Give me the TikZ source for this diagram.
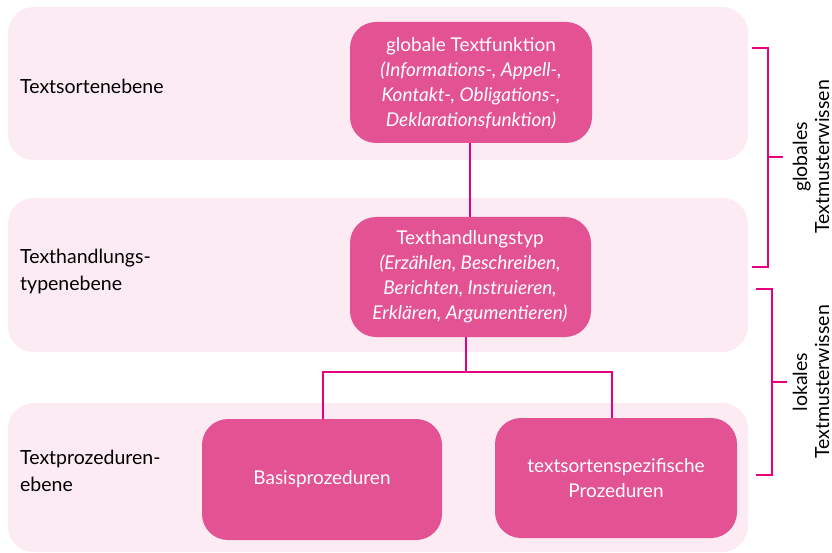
\documentclass[tikz,border=0pt]{standalone}
\usepackage{fontspec}
\setmainfont{Lato}
\definecolor{bandpink}{HTML}{FCEBF3}
\definecolor{boxpink}{HTML}{E35293}
\definecolor{linepink}{HTML}{E6007E}
\begin{document}
\begin{tikzpicture}[x=1pt,y=-1pt,
  band/.style={fill=bandpink, draw=none, rounded corners=26pt},
  pbox/.style={fill=boxpink, draw=none, rounded corners=26pt},
  boxtext/.style={text=white, align=center, font=\fontsize{19}{25}\selectfont},
  leveltext/.style={text=black, align=left, anchor=west, inner sep=0pt, font=\fontsize{19.5}{27}\selectfont},
  conn/.style={draw=linepink, line width=2pt},
  brace/.style={draw=linepink, line width=2pt},
  sidetext/.style={rotate=90, align=center, font=\fontsize{19.5}{22}\selectfont}]
\useasboundingbox (0,0) rectangle (832,553);
\fill[white] (0,0) rectangle (832,553);

% level bands
\path[band] (8,7) rectangle (748,160);
\path[band] (8,198) rectangle (748,352);
\path[band] (8,403) rectangle (748,552);

% level labels
\node[leveltext] (l1) at (20,86) {Textsortenebene};
\node[leveltext] (l2) at (20,271) {Texthandlungs-\\typenebene};
\node[leveltext] (l3) at (20,471) {Textprozeduren-\\ebene};

% boxes
\path[pbox] (350,22) rectangle (592,143);
\node[boxtext] (gt) at (471,83) {globale Textfunktion\\\itshape (Informations-, Appell-,\\\itshape Kontakt-, Obligations-,\\\itshape Deklarationsfunktion)};
\coordinate (gtb) at (470,143);

\path[pbox] (350,217) rectangle (591,337);
\node[boxtext] (tt) at (470,277) {Texthandlungstyp\\\itshape (Erzählen, Beschreiben,\\\itshape Berichten, Instruieren,\\\itshape Erklären, Argumentieren)};
\coordinate (ttt) at (470,217);
\coordinate (ttb) at (466,337);

\path[pbox] (202,419) rectangle (442,540);
\node[boxtext] (bp) at (322,479) {Basisprozeduren};
\coordinate (bpt) at (323,419);

\path[pbox] (495,418) rectangle (737,538);
\node[boxtext] (tp) at (616,478) {textsortenspezifische\\Prozeduren};
\coordinate (tpt) at (612,418);

% connectors
\coordinate (split) at (466,372);
\draw[conn] (gtb) -- (ttt);
\draw[conn] (ttb) -- (split);
\draw[conn] (bpt) -- (323,372) -- (612,372) -- (tpt);

% side brackets
\coordinate (g1) at (752,48);
\coordinate (g2) at (752,267);
\coordinate (gm) at (783,157);
\draw[brace] (g1) -- (768,48) -- (768,267) -- (g2);
\draw[brace] (768,157) -- (gm);
\node[sidetext] (gw) at (811,157) {globales\\Textmusterwissen};

\coordinate (k1) at (756,289);
\coordinate (k2) at (756,475);
\coordinate (km) at (787,382);
\draw[brace] (k1) -- (772,289) -- (772,475) -- (k2);
\draw[brace] (772,382) -- (km);
\node[sidetext] (lw) at (811,382) {lokales\\Textmusterwissen};
\end{tikzpicture}
\end{document}
